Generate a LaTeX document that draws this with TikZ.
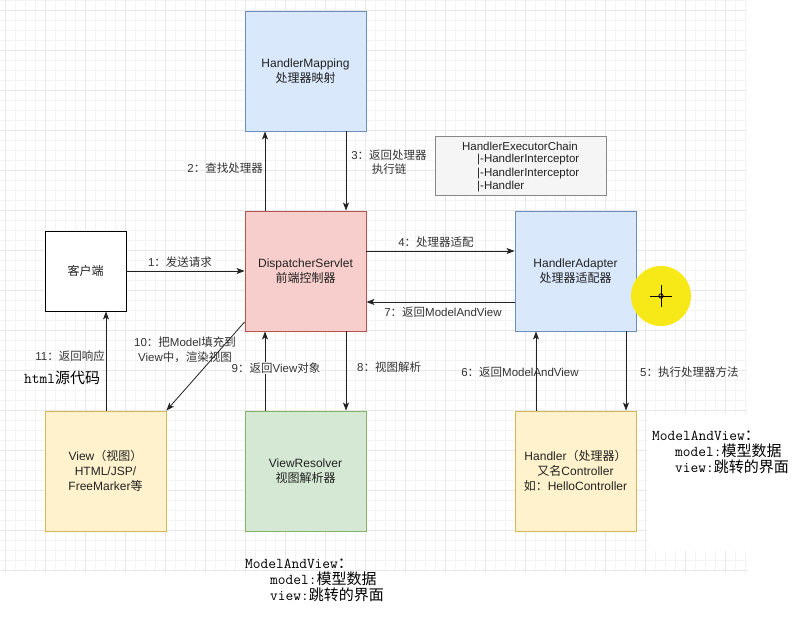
\documentclass[tikz,border=0pt]{standalone}
\usepackage{fontspec}
\setmainfont{Liberation Sans}
\newfontfamily\cjk{Noto Sans CJK SC}
\usetikzlibrary{arrows.meta}
\newcommand\zh[1]{{\cjk #1}}
\definecolor{bluef}{HTML}{DAE8FC}\definecolor{blued}{HTML}{6C8EBF}
\definecolor{redf}{HTML}{F8CECC}\definecolor{redd}{HTML}{B85450}
\definecolor{yelf}{HTML}{FFF2CC}\definecolor{yeld}{HTML}{D6B656}
\definecolor{grnf}{HTML}{D5E8D4}\definecolor{grnd}{HTML}{82B366}
\definecolor{gryf}{HTML}{F5F5F5}\definecolor{gryd}{HTML}{888888}
\definecolor{txt}{HTML}{222222}
\definecolor{lbl}{HTML}{333333}
\definecolor{gmin}{HTML}{F4F4F4}\definecolor{gmaj}{HTML}{E8E8E8}
\definecolor{hilite}{HTML}{F7E817}
\tikzset{
  box/.style={draw, line width=0.9pt, minimum width=121pt, minimum height=120pt, inner sep=0pt, align=center, text=txt, font=\fontsize{12}{15}\selectfont},
  lab/.style={text=lbl, inner sep=1pt, align=center, font=\fontsize{11.5}{14.5}\selectfont},
  arr/.style={draw=txt, line width=0.8pt, -{Stealth[length=8pt,width=6pt,inset=2pt]}},
  note/.style={align=left, anchor=north west, inner sep=0pt, text=black, font=\ttfamily\fontsize{15}{16}\selectfont},
  chainline/.style={anchor=west, inner sep=0pt, text=txt, font=\fontsize{11.5}{14}\selectfont},
}
\begin{document}
\begin{tikzpicture}[x=1pt,y=-1pt]
\useasboundingbox (0,0) rectangle (801,619);
\fill[white] (0,0) rectangle (801,619);
% grid
\foreach \x in {5,15,...,745} \draw[gmin, line width=0.6pt] (\x,0) -- (\x,572);
\foreach \y in {0,10,...,570} \draw[gmin, line width=0.6pt] (0,\y) -- (747,\y);
\foreach \x in {5,45,...,745} \draw[gmaj, line width=0.8pt] (\x,0) -- (\x,572);
\foreach \y in {10,50,...,570} \draw[gmaj, line width=0.8pt] (0,\y) -- (747,\y);
\fill[white] (647,414) rectangle (801,551);
\fill[white] (747,0) rectangle (801,619);

% boxes
\node[box, fill=bluef, draw=blued] (hm) at (305.5,71) {HandlerMapping\\\zh{处理器映射}};
\node[box, fill=redf, draw=redd] (ds) at (305.5,271) {DispatcherServlet\\\zh{前端控制器}};
\node[box, fill=white, draw=black, minimum width=81pt, minimum height=80pt] (client) at (85.5,271) {\zh{客户端}};
\node[box, fill=bluef, draw=blued] (ha) at (575.5,271) {HandlerAdapter\\\zh{处理器适配器}};
\node[box, fill=yelf, draw=yeld] (view) at (105.5,471) {View\zh{（视图）}\\HTML/JSP/\\FreeMarker\zh{等}};
\node[box, fill=grnf, draw=grnd] (vr) at (305.5,471) {ViewResolver\\\zh{视图解析器}};
\node[box, fill=yelf, draw=yeld] (handler) at (575.5,471) {Handler\zh{（处理器）}\\\zh{又名}Controller\\\zh{如：}HelloController};
\node[draw=gryd, fill=gryf, line width=0.8pt, minimum width=171pt, minimum height=59pt, inner sep=0pt] (chain) at (520.5,165.5) {};
\node[chainline, anchor=center] (c1) at (520,146) {HandlerExecutorChain};
\node[chainline] (c2) at (477,159.5) {|-HandlerInterceptor};
\node[chainline] (c3) at (477,173.5) {|-HandlerInterceptor};
\node[chainline] (c4) at (477,187) {|-Handler};

% connectors
\draw[arr] (client.east) -- (ds.west);
\draw[arr] ([xshift=-40.5pt]ds.north) -- ([xshift=-40.5pt]hm.south);
\draw[arr] ([xshift=40.5pt]hm.south) -- ([xshift=40.5pt]ds.north);
\draw[arr] ([yshift=20pt]ds.east) -- ([yshift=20pt]ha.west);
\draw[arr] ([yshift=-31pt]ha.west) -- ([yshift=-31pt]ds.east);
\draw[arr] ([xshift=50.5pt]ha.south) -- ([xshift=50.5pt]handler.north);
\draw[arr] ([xshift=-39.5pt]handler.north) -- ([xshift=-39.5pt]ha.south);
\draw[arr] ([xshift=40.5pt]ds.south) -- ([xshift=40.5pt]vr.north);
\draw[arr] ([xshift=-40.5pt]vr.north) -- ([xshift=-40.5pt]ds.south);
\draw[arr] ([yshift=-51pt]ds.west) -- (view.north east);
\draw[arr] ([xshift=0.5pt]view.north) -- ([xshift=20.5pt]client.south);

% labels
\node[lab] (l1) at (180,262) {1\zh{：发送请求}};
\node[lab, anchor=east] (l2) at (264,168) {2\zh{：查找处理器}};
\node[lab] (l3) at (389,162) {3\zh{：返回处理器}\\\zh{执行链}};
\node[lab] (l4) at (436,242) {4\zh{：处理器适配}};
\node[lab] (l7) at (443,312) {7\zh{：返回}ModelAndView};
\node[lab, anchor=west] (l5) at (639,372) {5\zh{：执行处理器方法}};
\node[lab] (l6) at (520,372) {6\zh{：返回}ModelAndView};
\node[lab, anchor=west] (l8) at (356,367) {8\zh{：视图解析}};
\node[lab, fill=white] (l9) at (276,368) {9\zh{：返回}View\zh{对象}};
\node[lab] (l10) at (185,350) {10\zh{：把}Model\zh{填充到}\\View\zh{中，渲染视图}};
\node[lab, anchor=east] (l11) at (106,356) {11\zh{：返回响应}};
\node[note, anchor=west] (l11b) at (24,378) {html\zh{源代码}};

% annotations
\node[note] (n1) at (245,559) {ModelAndView\zh{：}\\\hspace*{25pt}model:\zh{模型数据}\\\hspace*{25pt}view:\zh{跳转的界面}};
\node[note] (n2) at (652,431) {ModelAndView\zh{：}\\\hspace*{23pt}model:\zh{模型数据}\\\hspace*{23pt}view:\zh{跳转的界面}};

% cursor highlight
\fill[hilite] (661,296) circle (30);
\draw[black, line width=0.8pt] (650,296) -- (672,296) (661,285) -- (661,307);
\draw[black, line width=0.8pt] (661,296) circle (2.2);
\end{tikzpicture}
\end{document}
